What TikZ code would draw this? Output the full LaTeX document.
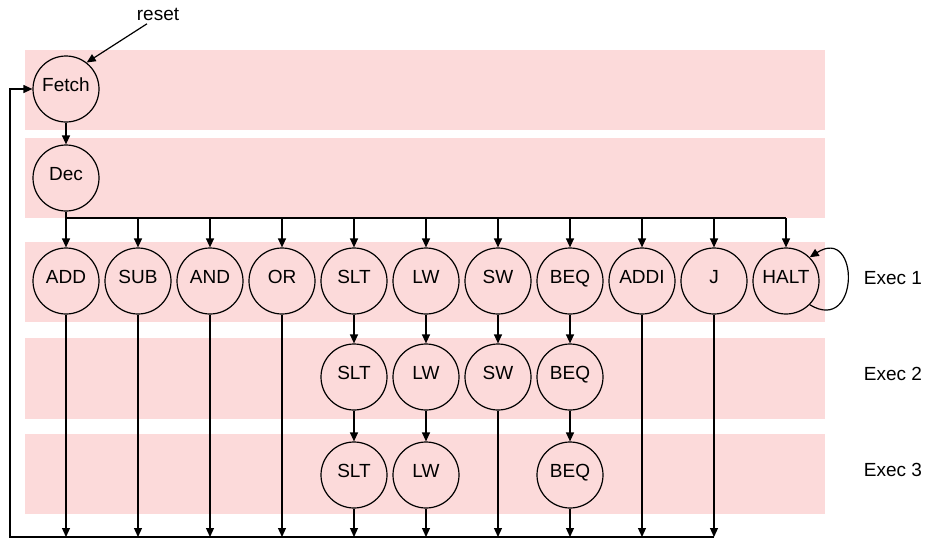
\documentclass[tikz,border=0pt]{standalone}
\usepackage{fontspec}
\setmainfont{Liberation Sans}
\usetikzlibrary{arrows.meta}
\definecolor{bandpink}{RGB}{252,218,218}
\begin{document}
\begin{tikzpicture}[x=1pt,y=-1pt,
  band/.style={fill=bandpink,draw=none},
  state/.style={circle,draw,line width=1.2pt,minimum size=66pt,inner sep=0pt,
    font=\fontsize{19}{22}\selectfont,text height=14pt,text depth=8.4pt},
  wire/.style={line width=1.2pt},
  arr/.style={wire,-{Triangle[length=9pt,width=8pt]}},
  lbl/.style={font=\fontsize{19}{22}\selectfont}]
\useasboundingbox (0,0) rectangle (927,539);

% pipeline-stage bands
\fill[band] (25,50) rectangle (825,130);
\fill[band] (25,138) rectangle (825,218);
\fill[band] (25,242) rectangle (825,322);
\fill[band] (25,338) rectangle (825,419);
\fill[band] (25,434) rectangle (825,514);

% fetch and decode
\node[state] (fetch) at (66,89) {Fetch};
\node[state] (dec) at (66,178) {Dec};
\draw[arr] (fetch) -- (dec);

% reset entry
\node[lbl] (reset) at (158,14) {reset};
\draw[arr] ([xshift=-11pt]reset.south) -- (fetch.52);

% first execute cycle, fed by the decode bus
\foreach \n/\t [count=\i from 0] in {add/ADD,sub/SUB,and/AND,or/OR,slt/SLT,lw/LW,sw/SW,beq/BEQ,addi/ADDI,j/J,halt/HALT}{
  \node[state] (\n1) at (66+72*\i,281) {\t};
  \coordinate (b\n) at (66+72*\i,218);
  \coordinate (r\n) at (66+72*\i,537);
  \draw[arr] (b\n) -- (\n1);
}
\draw[wire] (dec) -- (badd) -- (bhalt);

% second and third execute cycles
\foreach \n/\t/\x in {slt/SLT/354,lw/LW/426,sw/SW/498,beq/BEQ/570}{
  \node[state] (\n2) at (\x,377) {\t};
  \draw[arr] (\n1) -- (\n2);
}
\foreach \n/\t/\x in {slt/SLT/354,lw/LW/426,beq/BEQ/570}{
  \node[state] (\n3) at (\x,475) {\t};
  \draw[arr] (\n2) -- (\n3);
}

% HALT self-loop
\draw[arr] (halt1.-45) .. controls (860,335) and (860,225) .. (halt1.45);

% return paths to fetch
\foreach \s/\n in {add1/add,sub1/sub,and1/and,or1/or,slt3/slt,lw3/lw,sw2/sw,beq3/beq,addi1/addi,j1/j}{
  \draw[arr] (\s) -- (r\n);
}
\coordinate (corner) at (10,537);
\draw[arr] (rj) -- (corner) |- (fetch);

% stage labels
\node[lbl] (ex1) at (893,278) {Exec 1};
\node[lbl] (ex2) at (893,374) {Exec 2};
\node[lbl] (ex3) at (893,470) {Exec 3};
\end{tikzpicture}
\end{document}
